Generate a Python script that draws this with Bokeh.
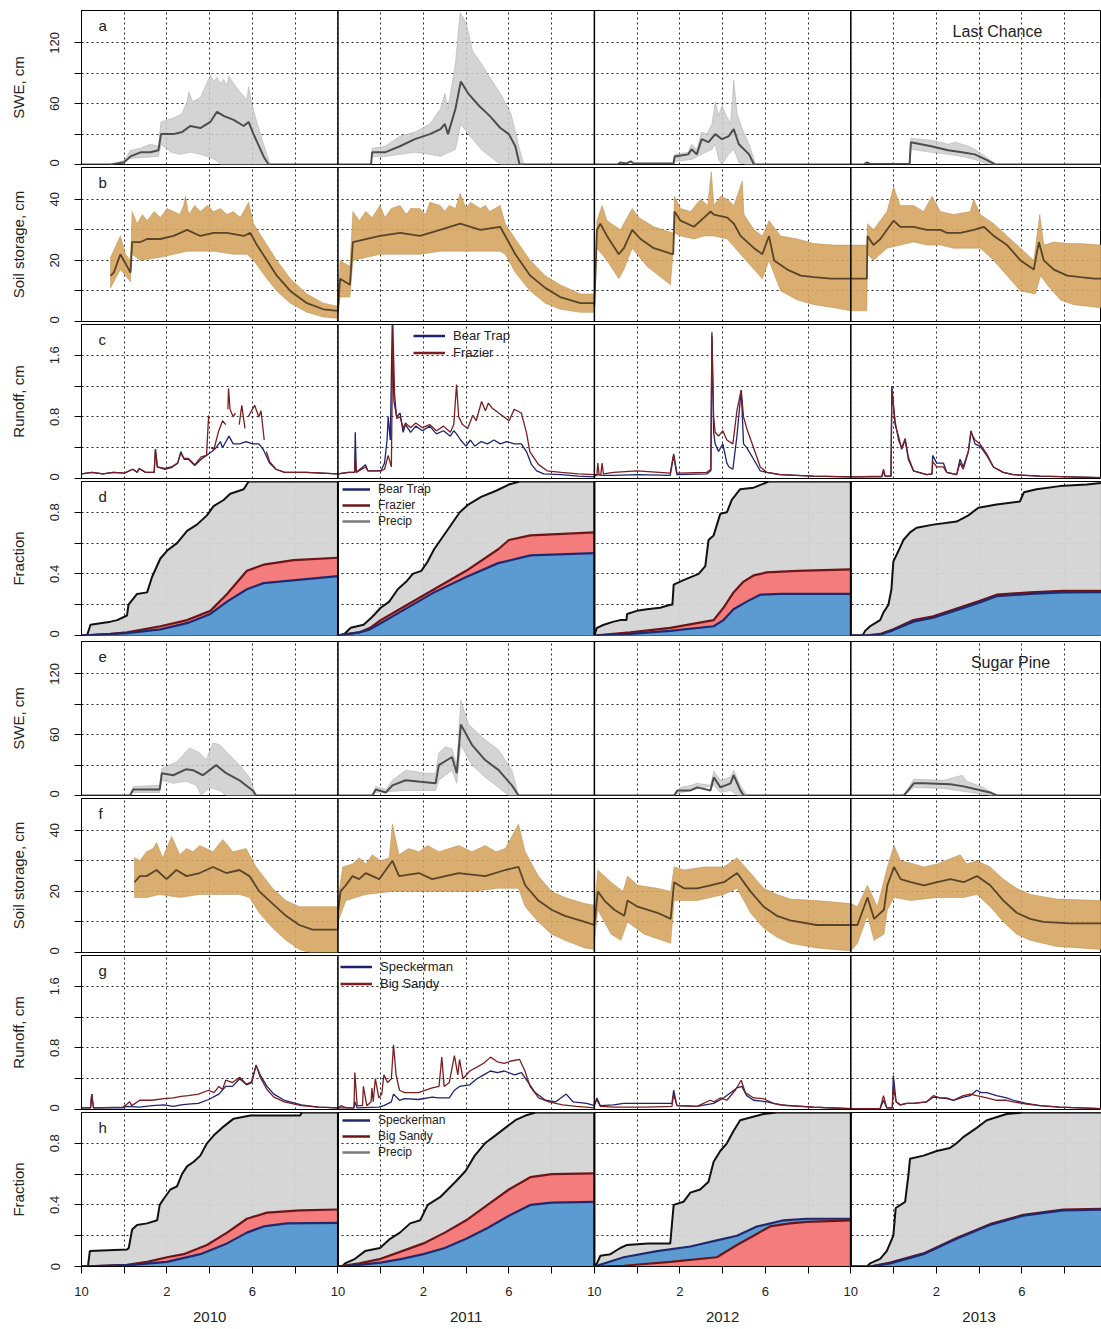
from bokeh.plotting import figure
from bokeh.layouts import column
from bokeh.models import (Range1d, FixedTicker, Grid, Span, Label, Legend,
                          LegendItem, LinearAxis)
from bokeh.embed import file_html
from bokeh.resources import INLINE

# ---------------------------------------------------------------------------
# Water years and month axis (months counted from 1 October 2009)
# ---------------------------------------------------------------------------
YEARS = ["2010", "2011", "2012", "2013"]
MONTH_TICKS = list(range(0, 48, 2))
MONTH_LABELS = {0: "10", 4: "2", 8: "6"}
X_END = 47.73

# Each series: one list per water year of (month within year, value) pairs.

# ---------------- Last Chance: snow water equivalent, cm ----------------
LC_SWE_MEAN = [
    [(0, 0), (1.36, 0), (1.98, 2), (2.29, 8), (2.76, 12), (3.22, 12), (3.6, 14), (3.72, 30), (4.31, 30),
     (4.7, 32), (5.09, 38), (5.56, 36), (6.03, 42), (6.34, 52), (6.65, 48), (7.12, 44), (7.59, 38),
     (7.82, 42), (8.05, 30), (8.52, 8), (8.75, 0), (12, 0)],
    [(0, 0), (1.55, 0), (1.6, 12), (2.2, 12), (2.9, 18), (3.6, 25), (4.3, 30), (4.8, 35), (5.0, 40),
     (5.15, 30), (5.5, 55), (5.75, 82), (6.1, 70), (6.6, 58), (7.1, 48), (7.6, 36), (8.0, 30), (8.3, 18),
     (8.5, 0), (12, 0)],
    [(0, 0), (1.1, 0), (1.2, 2), (1.5, 1), (1.7, 3), (1.85, 1), (3.7, 1), (3.76, 8), (4.39, 10), (4.55, 15),
     (4.79, 10), (5.02, 25), (5.34, 22), (5.66, 30), (5.97, 25), (6.29, 28), (6.52, 35), (6.76, 20),
     (7.24, 10), (7.47, 0), (12, 0)],
    [(0, 0), (0.6, 0), (0.76, 2), (0.9, 0.5), (2.75, 0.5), (2.81, 22), (3.76, 18), (4.55, 14), (5.2, 12),
     (5.8, 10), (6.3, 5), (6.76, 0), (11.73, 0)],
]
LC_SWE_HI = [
    [(1.36, 0), (1.98, 3), (2.29, 14), (2.76, 16), (3.22, 20), (3.6, 18), (3.72, 42), (4.31, 46), (4.7, 50),
     (4.94, 62), (5.02, 72), (5.2, 62), (5.56, 66), (6.03, 88), (6.2, 82), (6.34, 86), (6.5, 80),
     (6.65, 84), (6.8, 78), (6.9, 87), (7.12, 80), (7.4, 72), (7.74, 64), (7.82, 77), (7.95, 62),
     (8.2, 42), (8.52, 20), (8.83, 0)],
    [(1.55, 0), (1.6, 16), (2.2, 18), (2.9, 28), (3.6, 32), (4.3, 40), (4.8, 55), (5.0, 70), (5.15, 55),
     (5.5, 100), (5.72, 150), (6.0, 140), (6.3, 112), (6.7, 100), (7.1, 86), (7.6, 70), (8.1, 50),
     (8.5, 15), (8.7, 0)],
    [(3.7, 0), (3.76, 10), (4.39, 12), (4.55, 20), (4.79, 15), (5.02, 32), (5.26, 30), (5.5, 40),
     (5.66, 62), (5.81, 48), (5.97, 58), (6.13, 50), (6.37, 40), (6.52, 83), (6.68, 50), (6.92, 35),
     (7.24, 20), (7.55, 0)],
    [(2.75, 0), (2.81, 26), (3.2, 25), (3.76, 24), (4.2, 22), (4.55, 20), (4.9, 22), (5.2, 20), (5.5, 18),
     (5.8, 15), (6.3, 8), (6.8, 0)],
]
LC_SWE_LO = [
    [(1.36, 0), (2.29, 6), (3.6, 8), (3.72, 20), (4.2, 12), (4.63, 10), (5.09, 12), (5.56, 10), (6.03, 7),
     (6.3, 4), (6.5, 0), (8.83, 0)],
    [(1.55, 0), (1.6, 8), (2.2, 8), (2.9, 10), (3.6, 12), (4.3, 10), (4.8, 8), (5.0, 10), (5.5, 15),
     (5.75, 40), (6.1, 30), (6.7, 15), (7.3, 5), (7.6, 0), (8.7, 0)],
    [(3.7, 0), (3.76, 3), (4.55, 5), (5.02, 10), (5.5, 15), (5.66, 20), (5.81, 5), (5.97, 0), (6.29, 10),
     (6.52, 15), (6.76, 2), (7.08, 0), (7.55, 0)],
    [(2.75, 0), (2.81, 15), (3.76, 12), (4.55, 10), (5.2, 8), (5.8, 5), (6.3, 1), (6.6, 0), (6.8, 0)],
]

# ---------------- Last Chance: soil storage, cm ----------------
LC_SOIL_MEAN = [
    [(1.36, 15), (1.51, 16), (1.82, 22), (2.06, 19), (2.29, 16), (2.37, 26), (2.76, 26), (3.07, 27),
     (3.69, 27), (4.31, 28), (4.94, 30), (5.56, 28), (6.18, 29), (6.81, 29), (7.59, 28), (7.9, 29),
     (8.21, 25), (8.68, 20), (9.14, 15), (9.77, 10), (10.55, 6), (11.32, 4), (12, 3.5)],
    [(0, 4), (0.1, 14), (0.56, 12), (0.7, 26), (1.97, 28), (2.91, 29), (3.84, 28), (4.78, 30), (5.72, 32),
     (6.66, 30), (7.59, 31), (7.83, 28), (8.3, 22), (9.0, 15), (9.7, 11), (10.4, 8), (11.35, 6), (12, 6)],
    [(0, 5), (0.12, 30), (0.28, 32), (0.59, 28), (1.14, 22), (1.38, 24), (1.77, 30), (2.16, 27), (2.78, 24),
     (3.69, 22), (3.75, 36), (4.03, 33), (4.66, 31), (5.13, 34), (5.44, 36), (5.59, 35), (6.22, 34),
     (6.53, 32), (6.84, 28), (7.47, 24), (7.86, 22), (8.17, 28), (8.41, 20), (9.03, 17), (9.66, 15),
     (10.28, 14.5), (11.06, 14), (12, 14)],
    [(0, 14), (0.75, 14), (0.78, 28), (1.06, 25), (1.38, 27), (1.69, 30), (2.0, 33), (2.31, 31), (2.94, 31),
     (3.56, 30), (4.19, 30), (4.5, 29), (5.13, 29), (5.75, 30), (6.22, 31), (6.69, 28), (7.31, 25),
     (7.94, 20), (8.56, 17), (8.8, 26), (9.03, 20), (9.5, 17), (10.13, 15), (10.75, 14.5), (11.38, 14),
     (11.73, 14)],
]
LC_SOIL_HI = [
    [(1.36, 21), (1.82, 28), (2.06, 22), (2.29, 20), (2.37, 36), (2.6, 32), (2.85, 35), (3.07, 33),
     (3.4, 36), (3.69, 34), (4.0, 37), (4.31, 36), (4.6, 35), (4.78, 38), (4.86, 41), (5.02, 35),
     (5.3, 38), (5.56, 36), (5.9, 38), (6.18, 36), (6.5, 37), (6.81, 35), (7.1, 36), (7.43, 34),
     (7.82, 39), (8.05, 32), (8.68, 25), (9.14, 20), (9.77, 14), (10.55, 9), (11.32, 6), (12, 5)],
    [(0, 5), (0.1, 20), (0.56, 18), (0.7, 36), (1.0, 33), (1.3, 36), (1.6, 34), (1.97, 38), (2.2, 34),
     (2.5, 37), (2.91, 38), (3.2, 35), (3.4, 37), (3.84, 37), (4.1, 35), (4.3, 39), (4.78, 38), (5.0, 36),
     (5.2, 38), (5.5, 37), (5.72, 42), (6.0, 37), (6.2, 39), (6.66, 37), (6.9, 38), (7.1, 36),
     (7.59, 38), (7.83, 32), (8.3, 27), (9.0, 20), (9.7, 15), (10.4, 12), (11.35, 9), (12, 9)],
    [(0, 6), (0.12, 33), (0.36, 38), (0.59, 33), (1.22, 30), (1.77, 37), (2.08, 34), (2.78, 31),
     (3.69, 29), (3.75, 41), (4.03, 37), (4.5, 36), (4.97, 40), (5.3, 38), (5.47, 49), (5.59, 38),
     (5.91, 41), (6.22, 40), (6.53, 38), (6.92, 46), (7.0, 35), (7.47, 30), (7.86, 28), (8.17, 33),
     (8.72, 28), (9.5, 27), (10.28, 25.5), (11.22, 25), (12, 25)],
    [(0, 25), (0.75, 25), (0.78, 32), (1.06, 30), (1.69, 36), (2.0, 44), (2.31, 38), (2.94, 38), (3.41, 36),
     (3.8, 41), (4.19, 36), (4.81, 35), (5.59, 36), (5.75, 40), (6.06, 35), (6.69, 32), (7.31, 28),
     (7.94, 24), (8.56, 20), (8.84, 35), (9.03, 25), (9.5, 26), (10.13, 25.5), (10.75, 25.5), (11.73, 25)],
]
LC_SOIL_LO = [
    [(1.36, 11), (1.82, 17), (2.29, 13), (2.37, 22), (2.76, 20), (3.69, 21), (4.31, 22), (4.94, 23),
     (5.56, 23), (6.18, 23), (7.12, 22), (7.74, 22), (8.05, 20), (8.68, 14), (9.14, 10), (9.77, 6),
     (10.55, 3), (11.32, 1.5), (12, 1)],
    [(0, 2), (0.1, 8), (0.56, 8), (0.7, 20), (1.97, 22), (2.91, 22), (3.84, 22), (4.78, 23), (5.72, 23),
     (6.66, 23), (7.59, 23), (7.83, 22), (8.3, 16), (9.0, 10), (9.7, 6), (10.4, 4), (11.35, 3), (12, 3)],
    [(0, 4), (0.12, 24), (0.59, 20), (1.14, 14), (1.38, 17), (1.77, 24), (2.47, 18), (3.56, 12),
     (3.75, 29), (4.03, 28), (4.66, 27), (5.13, 28), (5.59, 28), (6.22, 27), (6.84, 22), (7.47, 17),
     (7.86, 14), (8.17, 20), (8.72, 10), (9.5, 7), (10.28, 5.5), (11.22, 4.5), (12, 3.5)],
    [(0, 3.5), (0.75, 3.5), (0.78, 22), (1.06, 20), (1.69, 24), (2.31, 25), (2.94, 26), (3.56, 25),
     (4.19, 25), (4.81, 24), (5.44, 24), (6.06, 24), (6.69, 20), (7.31, 15), (7.94, 10), (8.64, 9),
     (8.88, 15), (9.19, 12), (9.81, 7), (10.44, 5.5), (11.06, 5), (11.73, 4.5)],
]

# ---------------- Last Chance: runoff, cm (None = missing record) ----------------
LC_Q_BEARTRAP = [
    [(0, 0.06), (0.5, 0.08), (1.0, 0.06), (1.5, 0.08), (2.0, 0.07), (2.4, 0.12), (2.6, 0.08), (2.7, 0.13),
     (3.0, 0.08), (3.4, 0.08), (3.46, 0.38), (3.55, 0.15), (3.9, 0.12), (4.2, 0.14), (4.5, 0.2),
     (4.65, 0.35), (4.8, 0.25), (5.0, 0.25), (5.3, 0.17), (5.6, 0.25), (5.85, 0.3), (6.1, 0.35),
     (6.3, 0.4), (6.5, 0.48), (6.6, 0.4), (6.9, 0.55), (7.1, 0.45), (7.4, 0.45), (7.7, 0.48), (8.0, 0.45),
     (8.3, 0.45), (8.5, 0.38), (8.8, 0.2), (9.1, 0.12), (9.5, 0.08), (10.5, 0.08), (12, 0.06)],
    [(0, 0.06), (0.5, 0.08), (0.78, 0.08), (0.81, 0.6), (0.86, 0.08), (1.29, 0.18), (1.4, 0.1), (2.02, 0.1),
     (2.18, 0.2), (2.3, 0.5), (2.35, 0.8), (2.45, 0.5), (2.54, 2.0), (2.62, 1.0), (2.75, 0.8), (2.91, 0.85),
     (3.05, 0.6), (3.16, 0.7), (3.4, 0.6), (3.64, 0.68), (3.96, 0.62), (4.29, 0.68), (4.61, 0.58),
     (4.94, 0.62), (5.26, 0.55), (5.42, 0.62), (5.55, 0.58), (5.74, 0.5), (5.99, 0.42), (6.2, 0.5),
     (6.4, 0.42), (6.7, 0.48), (7.0, 0.45), (7.3, 0.5), (7.6, 0.45), (7.9, 0.48), (8.25, 0.45),
     (8.58, 0.45), (8.82, 0.35), (9.06, 0.18), (9.3, 0.1), (9.63, 0.06), (10.44, 0.05), (11.25, 0.03),
     (12, 0.02)],
    [(0, 0.03), (0.16, 0.05), (0.36, 0.04), (0.9, 0.04), (2.0, 0.05), (3.55, 0.04), (3.71, 0.3),
     (3.86, 0.05), (5.26, 0.06), (5.45, 0.1), (5.5, 1.9), (5.58, 0.6), (5.65, 0.45), (5.81, 0.35),
     (6.01, 0.45), (6.2, 0.2), (6.3, 0.15), (6.48, 0.12), (6.67, 0.55), (6.87, 1.15), (6.98, 0.45),
     (7.13, 0.4), (7.45, 0.25), (7.76, 0.1), (8.07, 0.08), (8.69, 0.05), (10.25, 0.03), (12, 0.02)],
    [(0, 0.02), (1.45, 0.02), (1.53, 0.1), (1.6, 0.03), (1.88, 0.03), (1.92, 1.2), (2.07, 0.7),
     (2.23, 0.55), (2.38, 0.38), (2.54, 0.5), (2.69, 0.25), (2.93, 0.1), (3.55, 0.05), (3.8, 0.06),
     (3.83, 0.3), (4.02, 0.2), (4.33, 0.2), (4.49, 0.08), (4.95, 0.05), (5.11, 0.25), (5.26, 0.15),
     (5.5, 0.35), (5.62, 0.62), (5.81, 0.45), (6.04, 0.42), (6.36, 0.3), (6.67, 0.15), (7.13, 0.08),
     (7.6, 0.05), (8.85, 0.03), (11.73, 0.01)],
]
LC_Q_FRAZIER = [
    [(0, 0.06), (0.5, 0.08), (1.0, 0.06), (1.5, 0.08), (2.0, 0.07), (2.4, 0.12), (2.6, 0.08), (2.7, 0.13),
     (3.0, 0.08), (3.4, 0.08), (3.46, 0.38), (3.55, 0.15), (3.9, 0.13), (4.2, 0.15), (4.5, 0.2),
     (4.65, 0.33), (4.8, 0.26), (5.0, 0.26), (5.3, 0.18), (5.6, 0.28), (5.85, 0.3), (5.95, 0.82),
     (5.98, None), (6.05, 0.4), (6.2, 0.38), (6.4, 0.6), (6.6, 0.75), (6.75, 0.7), (6.8, None),
     (6.85, 0.9), (6.88, 1.17), (6.95, 0.9), (7.1, 0.8), (7.2, 0.85), (7.3, None), (7.38, 0.7),
     (7.5, 0.95), (7.65, 0.65), (7.72, None), (7.8, 0.8), (7.9, 0.85), (8.1, 0.95), (8.3, 0.8),
     (8.4, 0.88), (8.55, 0.5), (8.6, None), (8.65, 0.35), (8.8, 0.22), (9.1, 0.12), (9.5, 0.08),
     (10.5, 0.08), (12, 0.06)],
    [(0, 0.06), (0.5, 0.08), (0.78, 0.08), (0.81, 0.3), (0.86, 0.08), (1.29, 0.15), (1.4, 0.1), (2.02, 0.1),
     (2.18, 0.12), (2.35, 0.3), (2.5, 0.15), (2.57, 2.0), (2.65, 1.1), (2.75, 0.78), (2.91, 0.8),
     (3.05, 0.65), (3.16, 0.72), (3.4, 0.66), (3.64, 0.72), (3.96, 0.66), (4.29, 0.7), (4.61, 0.62),
     (4.94, 0.68), (5.26, 0.6), (5.42, 0.7), (5.55, 1.22), (5.65, 0.8), (5.83, 0.7), (6.07, 0.65),
     (6.31, 0.82), (6.47, 0.75), (6.72, 1.0), (6.9, 0.88), (7.04, 0.98), (7.2, 0.92), (7.52, 0.85),
     (7.77, 0.8), (8.01, 0.75), (8.25, 0.9), (8.58, 0.85), (8.82, 0.6), (8.98, 0.35), (9.39, 0.18),
     (9.79, 0.1), (10.44, 0.08), (11.25, 0.06), (12, 0.05)],
    [(0, 0.05), (0.12, 0.05), (0.16, 0.2), (0.22, 0.05), (0.3, 0.05), (0.36, 0.2), (0.42, 0.06),
     (0.9, 0.08), (2.0, 0.1), (3.55, 0.07), (3.71, 0.32), (3.86, 0.07), (5.26, 0.08), (5.45, 0.12),
     (5.5, 1.85), (5.58, 0.8), (5.65, 0.6), (5.81, 0.55), (6.01, 0.62), (6.2, 0.5), (6.48, 0.45),
     (6.67, 0.88), (6.87, 1.15), (6.98, 0.8), (7.13, 0.65), (7.45, 0.4), (7.76, 0.15), (8.07, 0.08),
     (8.69, 0.05), (10.25, 0.03), (12, 0.02)],
    [(0, 0.02), (1.45, 0.03), (1.53, 0.12), (1.6, 0.03), (1.88, 0.03), (1.92, 1.15), (2.07, 0.75),
     (2.23, 0.5), (2.38, 0.4), (2.54, 0.52), (2.69, 0.28), (2.93, 0.1), (3.55, 0.05), (3.8, 0.06),
     (3.83, 0.22), (4.02, 0.15), (4.33, 0.15), (4.49, 0.08), (4.95, 0.05), (5.11, 0.2), (5.26, 0.12),
     (5.5, 0.35), (5.62, 0.6), (5.81, 0.5), (6.04, 0.45), (6.36, 0.32), (6.67, 0.15), (7.13, 0.08),
     (7.6, 0.05), (8.85, 0.03), (11.73, 0.01)],
]

# ---------------- Last Chance: cumulative fraction of annual precipitation ----------------
LC_F_PRECIP = [
    [(0, 0), (0.26, 0), (0.42, 0.07), (0.89, 0.08), (1.36, 0.09), (1.67, 0.1), (2.13, 0.13), (2.2, 0.2),
     (2.6, 0.27), (3.07, 0.28), (3.3, 0.38), (3.69, 0.5), (4.0, 0.55), (4.47, 0.6), (4.94, 0.68),
     (5.4, 0.72), (5.87, 0.78), (6.18, 0.84), (6.65, 0.88), (6.96, 0.92), (7.59, 0.95), (7.82, 1.0),
     (12, 1.0)],
    [(0, 0), (0.3, 0.01), (0.6, 0.05), (1.2, 0.07), (1.6, 0.12), (2.0, 0.18), (2.4, 0.22), (2.8, 0.3),
     (3.2, 0.35), (3.5, 0.4), (3.9, 0.42), (4.2, 0.48), (4.5, 0.56), (4.8, 0.62), (5.2, 0.7), (5.7, 0.8),
     (6.1, 0.85), (6.7, 0.9), (7.4, 0.94), (8.0, 0.98), (8.5, 1.0), (12, 1.0)],
    [(0, 0), (0.12, 0.05), (0.44, 0.07), (0.9, 0.09), (1.21, 0.1), (1.5, 0.1), (1.53, 0.14), (1.99, 0.16),
     (2.46, 0.17), (3.08, 0.18), (3.55, 0.2), (3.65, 0.2), (3.71, 0.33), (4.17, 0.36), (4.88, 0.4),
     (5.19, 0.45), (5.34, 0.62), (5.58, 0.65), (5.89, 0.79), (6.2, 0.8), (6.43, 0.88), (6.82, 0.95),
     (7.45, 0.96), (7.99, 0.99), (8.15, 1.0), (12, 1.0)],
    [(0, 0), (0.55, 0), (0.67, 0.03), (0.9, 0.06), (1.14, 0.08), (1.37, 0.1), (1.53, 0.15), (1.76, 0.2),
     (1.9, 0.3), (1.99, 0.48), (2.23, 0.55), (2.46, 0.62), (2.77, 0.67), (3.08, 0.7), (3.86, 0.72),
     (4.95, 0.74), (5.5, 0.78), (5.97, 0.83), (6.82, 0.85), (7.91, 0.87), (8.1, 0.93), (8.69, 0.95),
     (9.78, 0.97), (11.03, 0.98), (11.73, 0.99)],
]
LC_F_FRAZIER = [
    [(0, 0), (1.36, 0.01), (2.13, 0.02), (3.69, 0.06), (4.94, 0.1), (6.03, 0.16), (6.81, 0.27),
     (7.74, 0.42), (8.52, 0.46), (9.92, 0.49), (12, 0.505)],
    [(0, 0), (0.5, 0.01), (1.0, 0.02), (1.5, 0.05), (2.0, 0.1), (3.0, 0.18), (4.5, 0.3), (6.0, 0.42),
     (7.5, 0.56), (8.0, 0.62), (9.0, 0.65), (12, 0.67)],
    [(0, 0), (1.68, 0.02), (3.55, 0.05), (5.58, 0.1), (6.04, 0.18), (6.51, 0.28), (6.98, 0.35),
     (7.45, 0.39), (8.07, 0.41), (9.47, 0.42), (12, 0.43)],
    [(0, 0), (0.67, 0), (1.37, 0.01), (1.99, 0.04), (2.93, 0.1), (3.86, 0.125), (4.95, 0.175),
     (6.04, 0.225), (6.82, 0.265), (8.38, 0.28), (9.94, 0.29), (11.73, 0.29)],
]
LC_F_BEARTRAP = [
    [(0, 0), (2.13, 0.015), (3.69, 0.04), (4.94, 0.08), (6.03, 0.14), (6.81, 0.22), (7.74, 0.3),
     (8.52, 0.34), (12, 0.385)],
    [(0, 0), (0.5, 0.01), (1.0, 0.02), (1.5, 0.04), (2.0, 0.08), (3.0, 0.16), (4.5, 0.28), (6.0, 0.38),
     (7.5, 0.47), (9.0, 0.52), (12, 0.535)],
    [(0, 0), (1.68, 0.01), (3.55, 0.03), (5.58, 0.06), (6.04, 0.1), (6.51, 0.17), (7.13, 0.22),
     (7.76, 0.265), (8.69, 0.27), (12, 0.27)],
    [(0, 0), (0.67, 0), (1.37, 0.005), (1.99, 0.035), (2.93, 0.09), (3.86, 0.115), (4.95, 0.165),
     (6.04, 0.215), (6.82, 0.255), (8.38, 0.27), (9.94, 0.28), (11.73, 0.282)],
]

# ---------------- Sugar Pine: snow water equivalent, cm ----------------
SP_SWE_MEAN = [
    [(0, 0), (2.27, 0), (2.42, 6), (3.66, 6), (3.76, 22), (4.29, 20), (4.91, 26), (5.22, 25), (5.68, 20),
     (6.3, 30), (6.77, 22), (7.39, 15), (8.01, 5), (8.17, 0), (12, 0)],
    [(0, 0), (1.61, 0), (1.77, 6), (2.24, 3), (2.55, 10), (3.17, 15), (4.1, 13), (4.57, 12), (4.72, 30),
     (5.34, 38), (5.56, 22), (5.75, 70), (6.27, 50), (6.89, 35), (7.52, 25), (8.14, 10), (8.45, 0), (12, 0)],
    [(0, 0), (3.73, 0), (3.88, 5), (4.5, 5), (4.81, 8), (5.43, 5), (5.59, 18), (5.9, 8), (6.37, 12),
     (6.52, 20), (6.83, 5), (6.99, 0), (12, 0)],
    [(0, 0), (2.48, 0), (2.95, 12), (3.42, 12), (4.66, 11), (5.28, 9), (5.9, 6), (6.52, 3), (6.83, 0),
     (11.73, 0)],
]
SP_SWE_HI = [
    [(2.27, 0), (2.42, 9), (3.66, 10), (3.76, 27), (4.44, 33), (4.75, 40), (5.06, 47), (5.53, 42),
     (5.84, 35), (6.15, 52), (6.46, 50), (6.93, 40), (7.39, 30), (7.86, 18), (8.17, 0)],
    [(1.61, 0), (1.77, 9), (2.24, 6), (2.55, 15), (3.17, 25), (4.1, 22), (4.57, 22), (4.72, 42), (5.03, 48),
     (5.34, 46), (5.56, 30), (5.75, 94), (6.12, 70), (6.89, 55), (7.52, 45), (8.14, 25), (8.45, 0)],
    [(3.73, 0), (4.04, 8), (4.5, 10), (4.81, 12), (5.43, 10), (5.59, 24), (5.9, 15), (6.37, 18), (6.52, 25),
     (6.83, 10), (7.14, 0)],
    [(2.48, 0), (2.95, 16), (4.35, 15), (5.22, 20), (5.43, 14), (6.21, 8), (6.83, 0)],
]
SP_SWE_LO = [
    [(2.27, 0), (2.42, 3), (3.66, 3), (3.76, 15), (4.29, 12), (4.91, 14), (5.37, 10), (5.6, 0), (5.99, 8),
     (6.46, 5), (6.77, 0), (8.17, 0)],
    [(1.61, 0), (1.77, 3), (3.17, 5), (4.57, 5), (4.72, 15), (5.34, 25), (5.56, 12), (5.75, 50), (6.27, 30),
     (6.89, 18), (7.52, 8), (7.98, 0), (8.45, 0)],
    [(3.73, 0), (3.88, 2), (5.59, 10), (5.9, 3), (6.37, 5), (6.68, 0), (7.14, 0)],
    [(2.48, 0), (2.95, 8), (4.35, 7), (5.28, 4), (6.21, 1), (6.52, 0), (6.83, 0)],
]

# ---------------- Sugar Pine: soil storage, cm ----------------
SP_SOIL_MEAN = [
    [(2.48, 23), (2.73, 25), (3.04, 25), (3.51, 27), (3.98, 24), (4.44, 27), (4.91, 25), (5.53, 26),
     (6.15, 28), (6.77, 26), (7.39, 27), (7.86, 25), (8.32, 20), (8.94, 16), (9.57, 12), (10.19, 9),
     (10.81, 7.5), (12, 7.5)],
    [(0, 13), (0.12, 20), (0.37, 22), (0.68, 25), (0.99, 24), (1.3, 26), (1.93, 24), (2.55, 30), (2.86, 25),
     (3.79, 26), (4.41, 24), (5.03, 25), (5.65, 26), (6.89, 25), (7.83, 27), (8.45, 28), (8.76, 22),
     (9.38, 17), (10.0, 14), (10.62, 12), (11.55, 10), (12, 9)],
    [(0, 9), (0.16, 20), (0.47, 17), (0.93, 14), (1.4, 12), (1.55, 17), (2.02, 15), (2.95, 13), (3.57, 11),
     (3.73, 23), (4.19, 21), (4.81, 21), (5.43, 22), (6.06, 23), (6.68, 26), (7.3, 20), (7.92, 15),
     (8.54, 12), (9.16, 10.5), (10.4, 9), (12, 9)],
    [(0, 9), (0.31, 9), (0.78, 18), (1.09, 11), (1.55, 14), (1.71, 22), (2.02, 28), (2.33, 24), (2.8, 23),
     (3.42, 22), (4.04, 23), (4.66, 24), (5.28, 23), (5.9, 25), (6.52, 22), (7.14, 17), (7.76, 13),
     (8.39, 11), (9.01, 10), (10.25, 9.5), (11.73, 9.5)],
]
SP_SOIL_HI = [
    [(2.48, 31), (2.73, 30), (3.04, 33), (3.35, 34), (3.51, 36), (3.8, 31), (4.22, 38), (4.6, 32),
     (4.91, 34), (5.22, 33), (5.53, 35), (5.84, 34), (6.15, 33), (6.61, 37), (7.08, 33), (7.7, 34),
     (8.17, 28), (8.94, 21), (9.57, 17), (10.19, 15), (12, 15)],
    [(0, 17), (0.22, 28), (0.68, 29), (1.0, 31), (1.3, 29), (1.61, 32), (2.0, 30), (2.4, 31), (2.55, 42),
     (2.86, 32), (3.3, 34), (3.79, 33), (4.2, 35), (4.72, 33), (5.2, 34), (5.65, 35), (6.27, 33),
     (6.89, 35), (7.4, 33), (7.83, 34), (8.45, 42), (8.76, 33), (9.38, 25), (10.0, 20), (10.62, 18),
     (11.55, 16), (12, 15.5)],
    [(0, 15), (0.16, 27), (0.78, 23), (1.34, 20), (1.55, 25), (2.02, 22), (2.95, 21), (3.57, 20), (3.73, 28),
     (4.19, 27), (5.12, 28), (6.06, 28), (6.68, 31), (7.3, 26), (7.92, 21), (8.54, 19), (9.16, 17.5),
     (10.4, 17), (12, 16)],
    [(0, 16), (0.31, 15), (0.78, 22), (1.24, 15), (1.71, 28), (2.02, 35), (2.33, 30), (2.95, 29),
     (3.42, 28), (4.04, 29), (5.12, 32), (5.43, 29), (5.9, 30), (6.52, 28), (7.14, 24), (7.76, 21),
     (8.39, 19), (9.63, 17.5), (11.73, 17)],
]
SP_SOIL_LO = [
    [(2.48, 18), (3.04, 18), (3.66, 19), (4.6, 18), (5.53, 19), (6.46, 19), (7.39, 19), (7.86, 18),
     (8.32, 13), (8.94, 8), (9.57, 4), (10.19, 1), (10.65, 0), (12, 0)],
    [(0, 10), (0.37, 17), (1.3, 19), (2.55, 20), (3.79, 20), (5.03, 20), (6.27, 20), (7.52, 21), (8.45, 21),
     (8.76, 15), (9.38, 10), (10.0, 6), (10.62, 4), (11.55, 1.5), (12, 1)],
    [(0, 3), (0.16, 14), (0.78, 6), (1.24, 4), (1.55, 10), (2.33, 6), (3.57, 3), (3.73, 17), (4.81, 17),
     (6.06, 19), (6.68, 21), (7.3, 13), (7.92, 8), (8.54, 5), (9.16, 3), (10.4, 1.5), (12, 0.5)],
    [(0, 0.5), (0.31, 3), (0.78, 12), (1.09, 4), (1.55, 6), (1.71, 14), (2.02, 18), (2.8, 17), (4.04, 18),
     (5.28, 18), (5.9, 19), (6.52, 15), (7.14, 10), (7.76, 6), (8.39, 4), (9.63, 2), (11.73, 1)],
]

# ---------------- Sugar Pine: runoff, cm ----------------
SP_Q_SPECKERMAN = [
    [(0, 0.02), (0.42, 0.02), (0.48, 0.2), (0.56, 0.02), (1.93, 0.02), (2.09, 0.04), (2.73, 0.03),
     (3.3, 0.05), (3.86, 0.06), (4.3, 0.04), (4.66, 0.06), (5.0, 0.07), (5.47, 0.08), (5.95, 0.13),
     (6.43, 0.2), (6.75, 0.3), (7.07, 0.3), (7.4, 0.4), (7.72, 0.32), (7.96, 0.35), (8.17, 0.57),
     (8.36, 0.45), (8.68, 0.3), (9.0, 0.2), (9.49, 0.12), (10.29, 0.06), (11.09, 0.03), (12, 0.02)],
    [(0, 0.02), (0.75, 0.02), (0.79, 0.1), (0.9, 0.02), (1.91, 0.03), (2.15, 0.05), (2.5, 0.1), (2.6, 0.2),
     (2.88, 0.12), (3.12, 0.14), (3.76, 0.13), (4.41, 0.16), (4.73, 0.15), (5.21, 0.15), (5.45, 0.25),
     (5.69, 0.3), (6.17, 0.32), (6.5, 0.4), (6.82, 0.45), (7.14, 0.5), (7.46, 0.48), (7.78, 0.5),
     (8.26, 0.45), (8.59, 0.48), (8.91, 0.35), (9.23, 0.22), (9.71, 0.12), (10.19, 0.1), (10.68, 0.2),
     (11.0, 0.1), (11.64, 0.08), (12, 0.05)],
    [(0, 0.05), (0.12, 0.15), (0.28, 0.05), (0.9, 0.06), (1.37, 0.08), (2.46, 0.08), (3.63, 0.08),
     (3.71, 0.25), (3.86, 0.05), (4.8, 0.04), (5.58, 0.08), (6.04, 0.15), (6.67, 0.28), (6.9, 0.3),
     (7.13, 0.18), (7.45, 0.12), (8.07, 0.1), (8.69, 0.06), (10.25, 0.03), (12, 0.01)],
    [(0, 0.01), (1.37, 0.01), (1.53, 0.12), (1.68, 0.02), (1.94, 0.02), (1.99, 0.44), (2.12, 0.1),
     (2.31, 0.06), (2.62, 0.08), (2.93, 0.08), (3.55, 0.1), (3.86, 0.16), (4.17, 0.15), (4.49, 0.14),
     (4.8, 0.12), (5.26, 0.16), (5.58, 0.18), (5.89, 0.25), (6.1, 0.22), (6.36, 0.22), (6.82, 0.18),
     (7.29, 0.15), (7.6, 0.12), (8.22, 0.08), (8.85, 0.05), (9.78, 0.03), (11.73, 0.01)],
]
SP_Q_BIGSANDY = [
    [(0, 0.02), (0.42, 0.02), (0.48, 0.2), (0.56, 0.02), (1.93, 0.03), (2.09, 0.06), (2.25, 0.1),
     (2.35, 0.05), (2.73, 0.12), (3.3, 0.12), (3.86, 0.14), (4.3, 0.15), (4.66, 0.17), (5.0, 0.18),
     (5.47, 0.2), (5.95, 0.25), (6.2, 0.22), (6.43, 0.3), (6.6, 0.26), (6.75, 0.38), (7.07, 0.35),
     (7.4, 0.42), (7.72, 0.33), (7.96, 0.36), (8.17, 0.58), (8.36, 0.42), (8.68, 0.26), (9.0, 0.16),
     (9.49, 0.1), (10.29, 0.05), (11.09, 0.03), (12, 0.02)],
    [(0, 0.02), (0.14, 0.05), (0.39, 0.02), (0.75, 0.02), (0.79, 0.48), (0.9, 0.05), (1.15, 0.05),
     (1.19, 0.3), (1.35, 0.05), (1.55, 0.1), (1.59, 0.28), (1.65, 0.1), (1.75, 0.4), (1.91, 0.15),
     (2.05, 0.2), (2.15, 0.45), (2.32, 0.35), (2.5, 0.4), (2.6, 0.84), (2.72, 0.45), (2.88, 0.25),
     (3.12, 0.22), (3.76, 0.22), (4.41, 0.28), (4.73, 0.3), (4.86, 0.68), (4.97, 0.3), (5.21, 0.35),
     (5.45, 0.7), (5.61, 0.45), (5.69, 0.65), (5.85, 0.4), (6.17, 0.5), (6.5, 0.55), (6.82, 0.6),
     (7.14, 0.68), (7.46, 0.62), (7.78, 0.6), (8.1, 0.63), (8.5, 0.65), (8.75, 0.5), (8.99, 0.3),
     (9.39, 0.15), (9.87, 0.1), (10.51, 0.06), (11.16, 0.04), (12, 0.02)],
    [(0, 0.1), (0.12, 0.12), (0.28, 0.04), (0.9, 0.03), (2.46, 0.03), (3.63, 0.04), (3.71, 0.2),
     (3.86, 0.05), (4.8, 0.04), (5.42, 0.12), (5.6, 0.1), (5.89, 0.15), (6.2, 0.12), (6.59, 0.25),
     (6.87, 0.38), (7.06, 0.22), (7.45, 0.15), (7.91, 0.14), (8.38, 0.08), (9.0, 0.05), (10.25, 0.03),
     (12, 0.01)],
    [(0, 0.01), (1.37, 0.01), (1.53, 0.18), (1.68, 0.02), (1.94, 0.02), (1.99, 0.3), (2.12, 0.1),
     (2.31, 0.06), (2.62, 0.08), (2.93, 0.08), (3.55, 0.1), (3.86, 0.18), (4.17, 0.15), (4.49, 0.15),
     (4.8, 0.12), (5.26, 0.18), (5.58, 0.2), (5.89, 0.18), (6.36, 0.15), (6.82, 0.12), (7.29, 0.12),
     (7.6, 0.1), (8.22, 0.07), (8.85, 0.05), (9.78, 0.03), (11.73, 0.01)],
]

# ---------------- Sugar Pine: cumulative fraction of annual precipitation ----------------
SP_F_PRECIP = [
    [(0, 0), (0.3, 0), (0.39, 0.1), (2.13, 0.11), (2.21, 0.12), (2.37, 0.24), (2.6, 0.27), (3.07, 0.28),
     (3.54, 0.3), (3.66, 0.4), (3.85, 0.44), (4.16, 0.5), (4.47, 0.52), (4.7, 0.6), (4.94, 0.65),
     (5.25, 0.68), (5.56, 0.72), (5.87, 0.8), (6.18, 0.85), (6.57, 0.9), (7.12, 0.96), (7.9, 0.98),
     (10.23, 0.98), (10.31, 1.0), (12, 1.0)],
    [(0, 0), (0.2, 0), (0.33, 0.02), (0.8, 0.05), (1.27, 0.1), (1.97, 0.12), (2.44, 0.18), (2.9, 0.22),
     (3.38, 0.28), (3.85, 0.3), (4.2, 0.4), (4.78, 0.45), (5.5, 0.55), (5.97, 0.62), (6.4, 0.72),
     (6.88, 0.8), (7.36, 0.85), (7.83, 0.9), (8.3, 0.95), (8.77, 0.98), (9.25, 1.0), (12, 1.0)],
    [(0, 0), (0.12, 0.02), (0.28, 0.07), (0.75, 0.08), (1.21, 0.12), (1.53, 0.14), (2.5, 0.15), (3.55, 0.15),
     (3.71, 0.4), (4.17, 0.42), (4.49, 0.48), (4.95, 0.5), (5.34, 0.55), (5.58, 0.68), (5.89, 0.75),
     (6.2, 0.8), (6.51, 0.88), (6.82, 0.95), (7.91, 0.99), (8.54, 1.0), (12, 1.0)],
    [(0, 0), (0.75, 0), (0.9, 0.02), (1.37, 0.05), (1.68, 0.1), (1.99, 0.2), (2.1, 0.38), (2.54, 0.42),
     (2.7, 0.6), (2.77, 0.7), (3.4, 0.72), (4.02, 0.75), (4.64, 0.77), (4.95, 0.8), (5.26, 0.84),
     (5.89, 0.9), (6.36, 0.95), (7.29, 0.99), (8.07, 1.0), (11.73, 1.0)],
]
SP_F_BIGSANDY = [
    [(0, 0), (2.13, 0.01), (3.07, 0.03), (4.0, 0.06), (4.78, 0.08), (5.87, 0.14), (6.81, 0.22), (7.74, 0.31),
     (8.68, 0.35), (10.23, 0.365), (12, 0.37)],
    [(0, 0), (1, 0.02), (2, 0.05), (3, 0.1), (4, 0.15), (5, 0.22), (6, 0.3), (7, 0.4), (8, 0.5), (9, 0.58),
     (10, 0.6), (12, 0.605)],
    [(0, 0), (1.37, 0.005), (3.55, 0.03), (5.73, 0.06), (6.67, 0.14), (7.45, 0.2), (8.22, 0.26),
     (9.16, 0.28), (9.94, 0.29), (12, 0.3)],
    [(0, 0), (0.9, 0), (1.84, 0.025), (3.4, 0.085), (4.95, 0.185), (6.51, 0.275), (8.07, 0.335),
     (9.94, 0.37), (11.73, 0.375)],
]
SP_F_SPECKERMAN = [
    [(0, 0), (2.37, 0.01), (4.0, 0.03), (5.56, 0.08), (6.81, 0.15), (7.74, 0.22), (8.52, 0.26), (9.61, 0.28),
     (12, 0.283)],
    [(0, 0), (1, 0.01), (2, 0.025), (3, 0.05), (4, 0.08), (5, 0.12), (6, 0.18), (7, 0.25), (8, 0.33),
     (9, 0.4), (10, 0.415), (12, 0.42)],
    [(0, 0), (1.37, 0.06), (2.93, 0.1), (4.49, 0.13), (5.73, 0.17), (6.67, 0.2), (7.6, 0.26), (8.85, 0.3),
     (9.94, 0.31), (12, 0.31)],
    [(0, 0), (0.9, 0), (1.84, 0.02), (3.4, 0.08), (4.95, 0.18), (6.51, 0.27), (8.07, 0.33), (9.94, 0.365),
     (11.73, 0.37)],
]

# ---------------------------------------------------------------------------
# Styling
# ---------------------------------------------------------------------------
FONT = "Liberation Sans"
SWE_FILL, SWE_EDGE, SWE_LINE = "#cdcdcd", "#a5a5a5", "#4d4d4d"
SOIL_FILL, SOIL_EDGE, SOIL_LINE = "#d5a561", "#b78947", "#4a3920"
Q_BLUE, Q_RED = "#1d2370", "#7b1e22"
F_GRAY, F_RED, F_BLUE = "#d4d4d4", "#f47c7c", "#5b9bd2"
F_RED_LINE, F_BLUE_LINE, F_PRECIP_LINE = "#6e1518", "#1f2a6e", "#111111"
LEGEND_PRECIP = "#7a7a7a"
NAN = float("nan")

FRAME_H = 154
XR = Range1d(0, X_END)


def year_pts(yearly, k):
    xs = [12 * k + m for m, _ in yearly[k]]
    ys = [NAN if v is None else v for _, v in yearly[k]]
    return xs, ys


def flatten(yearly):
    xs, ys = [], []
    for k in range(len(yearly)):
        x, y = year_pts(yearly, k)
        xs += x
        ys += y
    return xs, ys


def make_panel(ymax, ticks, labeled, axis_label, top, bottom, show_x=False):
    p = figure(width=1101, height=top + FRAME_H + bottom, x_range=XR, y_range=Range1d(0, ymax),
               output_backend="svg", toolbar_location=None, title=None,
               min_border_left=81, min_border_right=0, min_border_top=top, min_border_bottom=bottom,
               x_axis_location="below" if show_x else None)
    p.background_fill_color = "white"
    p.border_fill_color = "white"
    p.outline_line_color = "black"
    p.outline_line_width = 1
    p.outline_line_alpha = 1

    # dotted reference grid
    p.center = [r for r in p.center if not isinstance(r, Grid)]
    for dim, tk in ((0, MONTH_TICKS), (1, ticks)):
        p.add_layout(Grid(dimension=dim, ticker=FixedTicker(ticks=tk), grid_line_color="black",
                          grid_line_alpha=0.85, grid_line_dash="2 3", grid_line_width=1))

    ax = p.yaxis[0]
    ax.ticker = FixedTicker(ticks=ticks)
    ax.major_label_overrides = {t: ("%g" % t if t in labeled else "") for t in ticks}
    ax.major_label_orientation = "vertical"
    ax.major_label_text_font = FONT
    ax.major_label_text_font_size = "13px"
    ax.major_label_text_color = "#222222"
    ax.major_tick_out = 7
    ax.major_tick_in = 0
    ax.minor_tick_line_color = None
    ax.major_label_standoff = 15
    ax.axis_line_color = "black"
    ax.axis_label = axis_label
    ax.axis_label_text_font = FONT
    ax.axis_label_text_font_size = "15px"
    ax.axis_label_text_font_style = "normal"
    ax.axis_label_text_color = "#222222"
    ax.axis_label_standoff = 21

    for k in (1, 2, 3):
        p.add_layout(Span(location=12 * k, dimension="height", line_color="black", line_width=1.5))
    return p


def add_letter(p, text):
    p.add_layout(Label(x=17, y=FRAME_H - 15, x_units="screen", y_units="screen", text=text,
                       text_font=FONT, text_font_size="15px", text_baseline="middle",
                       text_color="#222222"))


def add_band(p, hi, lo, fill, edge, alpha):
    for k in range(4):
        hx, hy = year_pts(hi, k)
        lx, ly = year_pts(lo, k)
        p.patch(hx + lx[::-1], hy + ly[::-1], fill_color=fill, fill_alpha=alpha,
                line_color=edge, line_width=0.6, line_alpha=0.8)


def add_fraction(p, precip, red, blue):
    for k in range(4):
        px, py = year_pts(precip, k)
        p.patch([px[0]] + px + [px[-1]], [0] + py + [0], fill_color=F_GRAY, fill_alpha=0.95, line_alpha=0)
        layers = [(red, F_RED), (blue, F_BLUE)]
        # the larger cumulative share is painted first so the smaller stays visible
        layers.sort(key=lambda s: -s[0][k][-1][1])
        for series, col in layers:
            x, y = year_pts(series, k)
            p.patch([x[0]] + x + [x[-1]], [0] + y + [0], fill_color=col, fill_alpha=1, line_alpha=0)
    x, y = flatten(precip)
    p.line(x, y, line_color=F_PRECIP_LINE, line_width=2)
    for series, col in ((red, F_RED_LINE), (blue, F_BLUE_LINE)):
        for k in range(4):
            x, y = year_pts(series, k)
            p.line(x, y, line_color=col, line_width=2.2)


def add_legend(p, entries, loc, font_size, row_h, glyph_w):
    items = []
    for label, col in entries:
        # legend-only renderer: a single missing point draws nothing in the frame
        r = p.line(x=[NAN], y=[NAN], line_color=col, line_width=2.5)
        items.append(LegendItem(label=label, renderers=[r], index=0))
    leg = Legend(items=items, location=loc, background_fill_alpha=0, border_line_alpha=0,
                 label_text_font=FONT, label_text_font_size=font_size, label_text_color="#222222",
                 glyph_width=glyph_w, glyph_height=row_h, label_height=row_h, label_standoff=8,
                 padding=0, margin=0, spacing=0)
    p.add_layout(leg)


SWE_TICKS, SWE_LAB = [0, 30, 60, 90, 120], [0, 60, 120]
SOIL_TICKS, SOIL_LAB = [0, 10, 20, 30, 40], [0, 20, 40]
Q_TICKS, Q_LAB = [0, 0.4, 0.8, 1.2, 1.6], [0, 0.8, 1.6]
F_TICKS, F_LAB = [0, 0.2, 0.4, 0.6, 0.8], [0, 0.4, 0.8]


def swe_panel(mean, hi, lo, letter, site, site_x, top, bottom):
    p = make_panel(152, SWE_TICKS, SWE_LAB, "SWE, cm", top, bottom)
    add_band(p, hi, lo, SWE_FILL, SWE_EDGE, 0.85)
    x, y = flatten(mean)
    p.line(x, y, line_color=SWE_LINE, line_width=2)
    add_letter(p, letter)
    p.add_layout(Label(x=site_x, y=FRAME_H - 21, x_units="screen", y_units="screen",
                       text=site, text_font=FONT, text_font_size="16px", text_align="center",
                       text_baseline="middle", text_color="#222222"))
    return p


def soil_panel(mean, hi, lo, letter, top, bottom):
    p = make_panel(50.4, SOIL_TICKS, SOIL_LAB, "Soil storage, cm", top, bottom)
    add_band(p, hi, lo, SOIL_FILL, SOIL_EDGE, 0.9)
    x, y = flatten(mean)
    p.line(x, y, line_color=SOIL_LINE, line_width=1.8, line_alpha=0.9)
    add_letter(p, letter)
    return p


def runoff_panel(blue, red, names, letter, top, bottom, leg_loc):
    p = make_panel(2.0, Q_TICKS, Q_LAB, "Runoff, cm", top, bottom)
    x, y = flatten(blue)
    p.line(x, y, line_color=Q_BLUE, line_width=1.3)
    x, y = flatten(red)
    p.line(x, y, line_color=Q_RED, line_width=1.3)
    add_letter(p, letter)
    add_legend(p, [(names[0], Q_BLUE), (names[1], Q_RED)], leg_loc, "13px", 17, 32)
    return p


def fraction_panel(precip, red, blue, names, letter, top, bottom, show_x=False):
    p = make_panel(1.0, F_TICKS, F_LAB, "Fraction", top, bottom, show_x=show_x)
    add_fraction(p, precip, red, blue)
    add_letter(p, letter)
    add_legend(p, [(names[0], F_BLUE_LINE), (names[1], F_RED_LINE), ("Precip", LEGEND_PRECIP)],
               (261, FRAME_H - 48), "12px", 16, 28)
    return p


pa = swe_panel(LC_SWE_MEAN, LC_SWE_HI, LC_SWE_LO, "a", "Last Chance", 916, 10, 2)
pb = soil_panel(LC_SOIL_MEAN, LC_SOIL_HI, LC_SOIL_LO, "b", 1, 2)
pc = runoff_panel(LC_Q_BEARTRAP, LC_Q_FRAZIER, ("Bear Trap", "Frazier"), "c", 1, 2,
                  (332, FRAME_H - 37))
pd = fraction_panel(LC_F_PRECIP, LC_F_FRAZIER, LC_F_BEARTRAP, ("Bear Trap", "Frazier"), "d", 1, 2)
pe = swe_panel(SP_SWE_MEAN, SP_SWE_HI, SP_SWE_LO, "e", "Sugar Pine", 929, 4, 2)
pf = soil_panel(SP_SOIL_MEAN, SP_SOIL_HI, SP_SOIL_LO, "f", 1, 2)
pg = runoff_panel(SP_Q_SPECKERMAN, SP_Q_BIGSANDY, ("Speckerman", "Big Sandy"), "g", 1, 2,
                  (259, FRAME_H - 37))
ph = fraction_panel(SP_F_PRECIP, SP_F_BIGSANDY, SP_F_SPECKERMAN, ("Speckerman", "Big Sandy"), "h",
                    1, 62, show_x=True)

# month ticks and water-year labels under the last row
xa = ph.xaxis[0]
xa.ticker = FixedTicker(ticks=MONTH_TICKS)
xa.major_label_overrides = {t: MONTH_LABELS.get(t % 12, "") for t in MONTH_TICKS}
xa.major_label_text_font = FONT
xa.major_label_text_font_size = "13px"
xa.major_label_text_color = "#222222"
xa.major_tick_out = 7
xa.major_tick_in = 0
xa.minor_tick_line_color = None
xa.major_label_standoff = 13
xa.axis_line_color = "black"

year_axis = LinearAxis(ticker=FixedTicker(ticks=[12 * k + 6 for k in range(4)]),
                       major_label_overrides={12 * k + 6: YEARS[k] for k in range(4)},
                       major_tick_out=0, major_tick_in=0, minor_tick_line_color=None,
                       axis_line_color=None, major_label_standoff=13,
                       major_label_text_font=FONT, major_label_text_font_size="15px",
                       major_label_text_color="#222222")
ph.add_layout(year_axis, "below")

layout = column(pa, pb, pc, pd, pe, pf, pg, ph, spacing=0)
open("out.html", "w").write(file_html(layout, INLINE))
